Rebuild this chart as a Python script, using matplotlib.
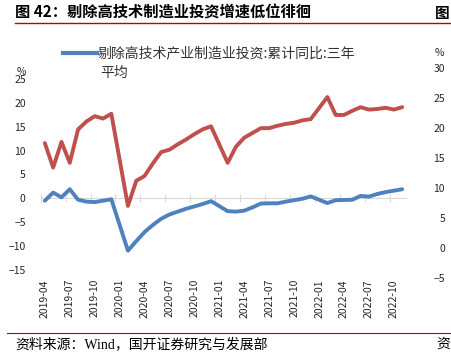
import numpy as np
import pandas as pd
import matplotlib.pyplot as plt
from matplotlib.lines import Line2D

plt.rcParams['font.family'] = ['Noto Sans CJK SC', 'DejaVu Sans']

# monthly categories, Jan values are missing (Jan-Feb reported together)
months = pd.date_range('2019-04-01', '2022-11-01', freq='MS').strftime('%Y-%m').tolist()

# 剔除高技术产业制造业投资:累计同比:三年平均 (left axis, %)
ex_hightech = [-0.5, 1.2, 0.2, 1.9, -0.3, -0.7, -0.8, -0.5, -0.2, None,
               -11.0, -9.0, -7.1, -5.6, -4.3, -3.4, -2.8, -2.2, -1.7, -1.2,
               -0.6, None, -2.7, -2.8, -2.6, -1.9, -1.1, -1.05, -1.05, -0.7,
               -0.4, -0.1, 0.4, None, -1.0, -0.4, -0.35, -0.3, 0.5, 0.35,
               0.9, 1.3, 1.6, 1.9]

# 高技术制造业投资 (right axis, %)
hightech = [17.5, 13.4, 17.7, 14.2, 19.8, 21.1, 22.0, 21.6, 22.4, None,
            7.0, 11.2, 12.0, 14.1, 16.0, 16.4, 17.3, 18.1, 19.0, 19.8,
            20.3, None, 14.2, 16.9, 18.4, 19.2, 20.0, 20.0, 20.4, 20.7,
            20.9, 21.3, 21.5, None, 25.2, 22.2, 22.2, 22.9, 23.5, 23.1,
            23.2, 23.4, 23.1, 23.5]

left_ticks = list(range(-15, 30, 5))
right_ticks = list(range(-5, 35, 5))

blue = '#4F81BD'
red = '#C0504D'
txt = '#262626'

W, H = 451, 364
fig = plt.figure(figsize=(W / 100, H / 100), dpi=100)
ax = fig.add_axes([40.7 / W, 1 - 277.7 / H, (406.3 - 40.7) / W, (277.7 - 68.3) / H])
ax2 = ax.twinx()

x = np.arange(len(months))
s_blue = pd.Series(ex_hightech, index=x, dtype=float).dropna()
s_red = pd.Series(hightech, index=x, dtype=float).dropna()

ax2.plot(s_red.index, s_red.values, color=red, lw=2.8,
         solid_joinstyle='round', solid_capstyle='round', zorder=3)
ax.plot(s_blue.index, s_blue.values, color=blue, lw=2.8,
        solid_joinstyle='round', solid_capstyle='round', zorder=3)

ax.set_xlim(-0.5, len(months) - 0.5)
ax.set_ylim(-16.68, 27.31)
ax2.set_ylim(-5, 30)
ax.set_yticks(left_ticks)
ax2.set_yticks(right_ticks)

for a in (ax, ax2):
    for sp in a.spines.values():
        sp.set_visible(False)

ax.tick_params(axis='y', length=0, pad=10.8, labelsize=7.5, labelcolor=txt)
ax2.tick_params(axis='y', length=0, pad=27.9, labelsize=7.5, labelcolor=txt)
for lab in ax2.get_yticklabels():
    lab.set_ha('right')

ax.set_xticks(x[::3])
ax.set_xticklabels(months[::3], rotation=90)
ax.tick_params(axis='x', length=0, pad=1, labelsize=7.5, labelcolor=txt)

# category axis crossing at left-axis zero
frac = (0 - ax.get_ylim()[0]) / (ax.get_ylim()[1] - ax.get_ylim()[0])
sec = ax.secondary_xaxis(frac)
sec.set_xticks(np.arange(-0.5, len(months), 3))
sec.tick_params(axis='x', direction='inout', length=6, width=0.8, color='#D9D9D9',
                labelbottom=False, labeltop=False)
for sp in sec.spines.values():
    sp.set_visible(False)
sec.spines['bottom'].set_visible(True)
sec.spines['bottom'].set_color('#D9D9D9')
sec.spines['bottom'].set_linewidth(0.8)

fig.text(21.7 / W, 1 - 71.7 / H, '%', fontsize=7.5, color=txt, ha='center', va='center')
fig.text(439 / W, 1 - 53 / H, '%', fontsize=7.5, color=txt, ha='center', va='center')

# legend
fig.add_artist(Line2D([63 / W, 97 / W], [1 - 53 / H] * 2, color=blue, lw=3))
fig.text(98 / W, 1 - 53 / H, '剔除高技术产业制造业投资:累计同比:三年', fontsize=10,
         color='#333333', va='center')
fig.text(100 / W, 1 - 73 / H, '平均', fontsize=10, color='#333333', va='center')

# title and footer
fig.text(15 / W, 1 - 13 / H, '图 42：剔除高技术制造业投资增速低位徘徊', fontsize=11,
         fontweight='bold', va='center', color='black')
fig.text(435 / W, 1 - 13 / H, '图', fontsize=10.5, fontweight='bold', va='center', color='black')
fig.add_artist(Line2D([15 / W, 1], [1 - 23 / H] * 2, color='#C00000', lw=1))
fig.add_artist(Line2D([7 / W, 1], [1 - 332.7 / H] * 2, color='#C00000', lw=0.8))
fig.text(15 / W, 1 - 344 / H, '资料来源：Wind，国开证券研究与发展部', fontsize=10,
         family=['Liberation Serif', 'Noto Sans CJK SC'], va='center', color='black')
fig.text(436 / W, 1 - 344 / H, '资', fontsize=10, va='center', color='black')

fig.savefig('out.png', dpi=100)
